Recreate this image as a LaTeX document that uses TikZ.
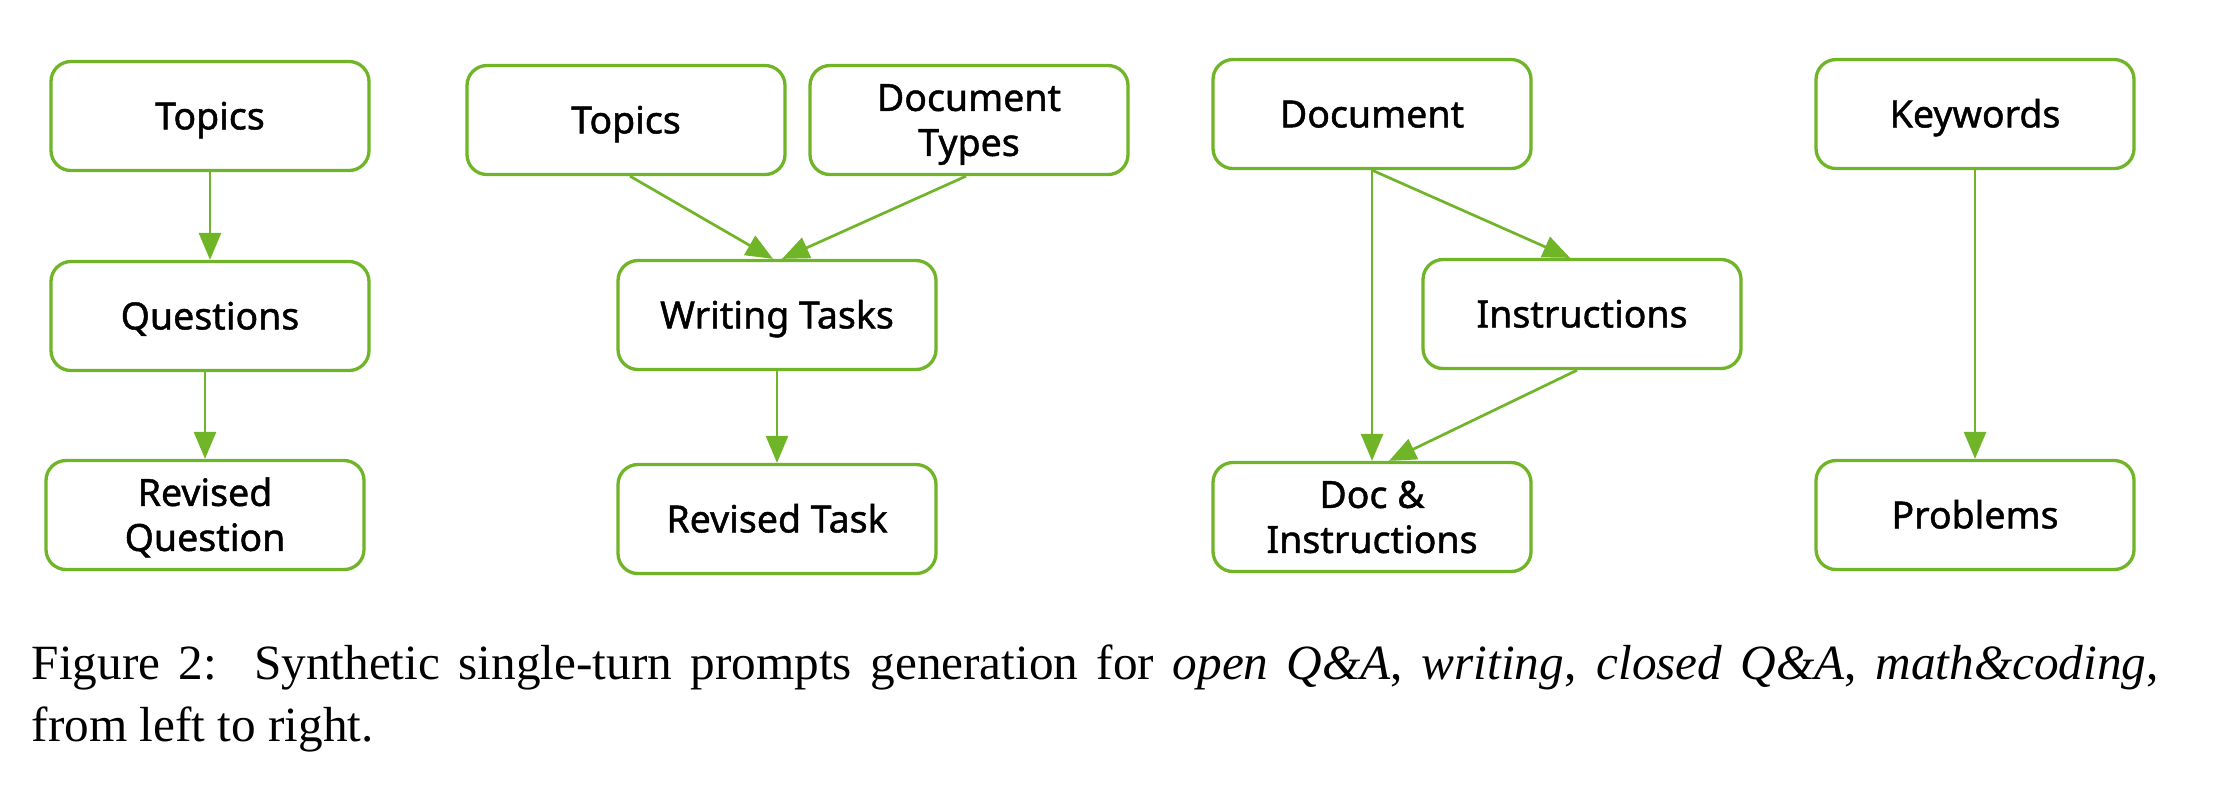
\documentclass[tikz,border=0pt]{standalone}
\usepackage{fontspec}
\setmainfont{Liberation Serif}
\newfontfamily\boxfont[RawFeature={embolden=1.2}]{Noto Sans}
\usetikzlibrary{arrows.meta}
\definecolor{nvgreen}{RGB}{112,180,40}
\begin{document}
\begin{tikzpicture}[x=0.2pt,y=-0.2pt,
  box/.style={draw=nvgreen, line width=0.66pt, rounded corners=4pt,
    minimum width=63.6pt, minimum height=21.8pt, align=center, inner sep=0pt,
    text height=5.36pt, text depth=0pt,
    font=\boxfont\fontsize{7.5pt}{9pt}\selectfont},
  twoline/.style={text height=14.36pt},
  arr/.style={draw=nvgreen, line width=0.54pt, -{Triangle[length=5.4pt,width=4.4pt]}}]
\useasboundingbox (0,0) rectangle (2220,804);
% column 1
\node[box] (a1) at (210,116) {Topics};
\node[box] (a2) at (210,316) {Questions};
\node[box, twoline] (a3) at (205,515) {Revised\\Question};
% column 2
\node[box] (b1) at (626,120) {Topics};
\node[box, twoline] (b2) at (969,120) {Document\\Types};
\node[box] (b3) at (777,315) {Writing Tasks};
\node[box] (b4) at (777,519) {Revised Task};
% column 3
\node[box] (c1) at (1372,114) {Document};
\node[box] (c2) at (1582,314) {Instructions};
\node[box, twoline] (c3) at (1372,517) {Doc \&\\Instructions};
% column 4
\node[box] (d1) at (1975,114) {Keywords};
\node[box] (d2) at (1975,515) {Problems};
% arrows
\draw[arr] (a1.south) -- (a1.south |- a2.north);
\draw[arr] ([xshift=-1pt]a2.south) -- ([xshift=-1pt]a2.south |- a3.north);
\draw[arr] ([xshift=0.8pt]b1.south) -- ([xshift=-0.8pt]b3.north);
\draw[arr] ([xshift=-0.6pt]b2.south) -- ([xshift=1pt]b3.north);
\draw[arr] (b3.south) -- (b4.north);
\draw[arr] (c1.south) -- (c3.north);
\draw[arr] (c1.south) -- ([xshift=-2.4pt]c2.north);
\draw[arr] ([xshift=-1pt]c2.south) -- ([xshift=3.4pt]c3.north);
\draw[arr] (d1.south) -- (d2.north);
% caption
\node[anchor=base west, inner sep=0pt] (cap) at (30.7,679.3)
  {\parbox[t]{425.4pt}{\fontsize{9.85pt}{12.5pt}\selectfont Figure 2:\ \ Synthetic single-turn prompts generation for \textit{open Q\&A}, \textit{writing}, \textit{closed Q\&A}, \textit{math\&coding},\linebreak from left to right.}};
\end{tikzpicture}
\end{document}
